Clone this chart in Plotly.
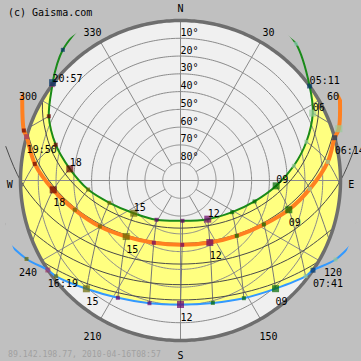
import numpy as np
import plotly.graph_objects as go

# ---------------- data (azimuth deg from N clockwise, elevation deg) ----------------
# June 21 (summer solstice), local summer time
SUMMER_TIME = ["03:00", "04:00", "05:11", "06:00", "07:00", "08:00", "09:00", "10:00", "11:00",
               "12:00", "13:00", "14:00", "15:00", "16:00", "17:00", "18:00", "19:00", "20:00",
               "20:57", "21:00", "22:00", "23:00"]
SUMMER_AZ = [27.6, 40.2, 53.8, 63.0, 72.9, 82.6, 93.2, 105.8, 121.5, 144.8, 177.2, 211.4, 235.0,
             252.6, 264.4, 276.0, 286.0, 296.0, 306.8, 307.4, 318.0, 330.6]
SUMMER_EL = [-15.9, -10.7, 0.0, 6.5, 15.9, 25.7, 36.1, 46.7, 55.9, 63.4, 67.3, 64.1, 57.9, 48.1,
             37.8, 27.4, 17.0, 7.6, 0.0, -0.6, -8.9, -15.0]

# today, April 16
TODAY_TIME = ["05:00", "06:00", "06:14", "07:00", "08:00", "09:00", "10:00", "11:00", "12:00",
              "13:00", "14:00", "15:00", "16:00", "17:00", "18:00", "19:00", "19:50", "20:00", "21:00"]
TODAY_AZ = [60.5, 71.9, 74.5, 82.8, 93.7, 105.1, 117.8, 134.5, 154.7, 178.5, 203.2, 224.1, 240.3,
            254.5, 265.8, 276.5, 285.9, 287.7, 299.2]
TODAY_EL = [-12.9, -3.7, 0.0, 6.5, 17.1, 26.9, 37.0, 45.6, 51.4, 53.8, 51.9, 46.1, 37.8, 28.3,
            18.2, 7.5, 0.0, -2.5, -12.0]

# December 21 (winter solstice), standard time
WINTER_TIME = ["06:00", "07:00", "07:41", "08:00", "09:00", "10:00", "11:00", "12:00", "13:00",
               "14:00", "15:00", "16:00", "16:19", "17:00", "18:00"]
WINTER_AZ = [106.7, 117.0, 124.1, 127.4, 138.7, 151.7, 165.2, 180.0, 194.2, 208.1, 221.0, 232.4,
             236.0, 243.0, 253.0]
WINTER_EL = [-15.7, -7.9, 0.0, 1.4, 9.0, 14.8, 18.8, 20.25, 18.8, 15.2, 9.3, 1.7, 0.0, -7.2, -15.9]

# thin sun paths of other dates
EQUINOX_AZ = [78.9, 90.0, 101.1, 112.9, 126.2, 141.7, 159.9, 180.0, 200.1, 218.3, 233.8, 247.1,
              258.9, 270.0, 281.1]
EQUINOX_EL = [-10.2, 0.0, 10.2, 19.9, 28.8, 36.2, 41.2, 43.0, 41.2, 36.2, 28.8, 19.9, 10.2, 0.0, -10.2]
FEBOCT_AZ = [107.2, 108.8, 120.3, 132.9, 147.1, 163.0, 180.0, 197.0, 212.9, 227.1, 239.7, 251.2, 252.8]
FEBOCT_EL = [0.0, 1.5, 10.8, 19.0, 25.6, 29.9, 31.4, 29.9, 25.6, 19.0, 10.8, 1.5, 0.0]
JANNOV_AZ = [120.4, 125.5, 137.4, 150.5, 164.9, 180.0, 195.1, 209.5, 222.6, 234.5, 239.6]
JANNOV_EL = [0.0, 3.9, 11.5, 17.6, 21.5, 22.8, 21.5, 17.6, 11.5, 3.9, 0.0]
APRAUG_AZ = [72.8, 82.0, 92.9, 104.6, 118.1, 134.6, 155.5, 180.0, 204.5, 225.4, 241.9, 255.4,
             267.1, 278.0, 287.2]
APRAUG_EL = [0.0, 8.5, 18.7, 28.8, 38.3, 46.5, 52.4, 54.6, 52.4, 46.5, 38.3, 28.8, 18.7, 8.5, 0.0]
MAYJUL_AZ = [59.6, 65.5, 75.9, 86.4, 97.5, 110.6, 127.4, 150.4, 180.0, 209.6, 232.6, 249.4, 262.5,
             273.6, 284.1, 294.5, 300.4]
MAYJUL_EL = [0.0, 5.0, 14.6, 24.7, 34.9, 44.8, 53.8, 60.6, 63.2, 60.6, 53.8, 44.8, 34.9, 24.7,
             14.6, 5.0, 0.0]

ELEV_RINGS = [10, 20, 30, 40, 50, 60, 70, 80]
SPOKES = [0, 30, 60, 90, 120, 150, 180, 210, 240, 270, 300, 330]
AZ_LABELS = [30, 60, 120, 150, 210, 240, 300, 330]
CARDINALS = ["N", "E", "S", "W"]
CARDINAL_AZ = [0, 90, 180, 270]
COPYRIGHT = "(c) Gaisma.com"
FOOTER = "89.142.198.77, 2010-04-16T08:57"

# ---------------- styling ----------------
RMAX = 90 * 180.5 / 160.0
FONT = "DejaVu Sans Mono"
BG_OUT = "#c0c0c0"
BG_IN = "#f0f0f0"
YELLOW = "#ffff80"
GRID = "#8a8a8a"
GROUP_COLORS = {1: "#8fc9b5", 2: "#99cc99", 3: "#006600", 4: "#660066",
                5: "#666600", 6: "#660000", 7: "#003366", 0: "#003366"}
SUNRISE_C = "#003366"
SUNSET_C = "#993366"
NBSP = "\u00a0"


def zen(el):
    return [90.0 - e for e in el]


fig = go.Figure()

# inner sky disk
circ = np.linspace(0, 360, 361)
fig.add_trace(go.Scatterpolar(r=[90] * len(circ), theta=circ, mode="lines", fill="toself",
                              fillcolor=BG_IN, line=dict(width=0), hoverinfo="skip"))


def above(az, el):
    idx = [i for i, e in enumerate(el) if e >= 0]
    return [az[i] for i in idx], [el[i] for i in idx]


s_az, s_el = above(SUMMER_AZ, SUMMER_EL)
w_az, w_el = above(WINTER_AZ, WINTER_EL)
west_arc = list(np.linspace(s_az[-1], w_az[-1], 40))
east_arc = list(np.linspace(w_az[0], s_az[0], 40))
poly_theta = s_az + west_arc + w_az[::-1] + east_arc
poly_r = zen(s_el) + [90] * 40 + zen(w_el[::-1]) + [90] * 40
fig.add_trace(go.Scatterpolar(r=poly_r, theta=poly_theta, mode="lines", fill="toself",
                              fillcolor=YELLOW, line=dict(width=0), hoverinfo="skip"))

# elevation rings
for e in ELEV_RINGS:
    fig.add_trace(go.Scatterpolar(r=[90 - e] * len(circ), theta=circ, mode="lines",
                                  line=dict(color=GRID, width=1), hoverinfo="skip"))
# azimuth spokes
for a in SPOKES:
    r0 = 0 if a % 90 == 0 else 10
    fig.add_trace(go.Scatterpolar(r=[r0, 90], theta=[a, a], mode="lines",
                                  line=dict(color=GRID, width=1), hoverinfo="skip"))


# hour lines (winter in standard time -> one hour earlier on the clock)
def lookup(times, az, el, h):
    key = "%02d:00" % h
    if key in times:
        i = times.index(key)
        return az[i], el[i]
    return None


for h in range(6, 21):
    pts = [lookup(SUMMER_TIME, SUMMER_AZ, SUMMER_EL, h),
           lookup(TODAY_TIME, TODAY_AZ, TODAY_EL, h),
           lookup(WINTER_TIME, WINTER_AZ, WINTER_EL, h - 1)]
    pts = [p for p in pts if p is not None]
    if len(pts) < 2:
        continue
    fig.add_trace(go.Scatterpolar(r=[90 - p[1] for p in pts], theta=[p[0] for p in pts],
                                  mode="lines", line=dict(color="#777777", width=1, shape="spline"),
                                  hoverinfo="skip"))

# mask outside horizon
mask_t = list(circ) + list(circ[::-1])
mask_r = [RMAX + 3] * len(circ) + [90] * len(circ)
fig.add_trace(go.Scatterpolar(r=mask_r, theta=mask_t, mode="lines", fill="toself",
                              fillcolor=BG_OUT, line=dict(width=0), hoverinfo="skip"))

# thin date paths
for az, el in [(EQUINOX_AZ, EQUINOX_EL), (FEBOCT_AZ, FEBOCT_EL), (JANNOV_AZ, JANNOV_EL),
               (APRAUG_AZ, APRAUG_EL), (MAYJUL_AZ, MAYJUL_EL)]:
    fig.add_trace(go.Scatterpolar(r=zen(el), theta=az, mode="lines",
                                  line=dict(color="#4a4a4a", width=1, shape="spline"),
                                  hoverinfo="skip", cliponaxis=False))

# horizon circle
fig.add_trace(go.Scatterpolar(r=[90] * len(circ), theta=circ, mode="lines",
                              line=dict(color="#6e6e6e", width=3.5), hoverinfo="skip"))

# main paths: (times, az, el, colour, width, labels below?)
PATHS = [
    (WINTER_TIME, WINTER_AZ, WINTER_EL, "#3399ff", 2, True),
    (TODAY_TIME, TODAY_AZ, TODAY_EL, "#ff8020", 4, True),
    (SUMMER_TIME, SUMMER_AZ, SUMMER_EL, "#1a8a1a", 2, False),
]
for times, az, el, col, lw, _ in PATHS:
    fig.add_trace(go.Scatterpolar(r=zen(el), theta=az, mode="lines",
                                  line=dict(color=col, width=lw, shape="spline"),
                                  hoverinfo="skip"))

for times, az, el, col, lw, below in PATHS:
    colors, sizes = [], []
    n_event = 0
    for t in times:
        h, m = int(t[:2]), int(t[3:])
        if m == 0:
            colors.append(GROUP_COLORS[h // 3])
            sizes.append(7 if h % 3 == 0 else 4)
        else:
            colors.append(SUNRISE_C if n_event == 0 else SUNSET_C)
            sizes.append(5)
            n_event += 1
    order = sorted(range(len(times)), key=lambda i: sizes[i])
    fig.add_trace(go.Scatterpolar(r=[90 - el[i] for i in order], theta=[az[i] for i in order],
                                  mode="markers", cliponaxis=False, hoverinfo="skip",
                                  marker=dict(symbol="square", size=[sizes[i] for i in order],
                                              color=[colors[i] for i in order],
                                              line=dict(width=0))))
    lab_t, lab_r, lab_txt = [], [], []
    for t, a, e in zip(times, az, el):
        h, m = int(t[:2]), int(t[3:])
        if m != 0:
            s = t
        elif h % 3 == 0 and e > 0:
            s = t[:2]
        else:
            continue
        lab_txt.append(NBSP * len(s) + s if below else s)
        lab_t.append(a)
        lab_r.append(90 - e)
    if below:
        fig.add_trace(go.Scatterpolar(r=lab_r, theta=lab_t, mode="markers+text", text=lab_txt,
                                      textposition="bottom center", cliponaxis=False,
                                      hoverinfo="skip",
                                      marker=dict(size=13, color="rgba(0,0,0,0)", line=dict(width=0)),
                                      textfont=dict(family=FONT, size=10, color="black")))
    else:
        fig.add_trace(go.Scatterpolar(r=lab_r, theta=lab_t, mode="text", text=lab_txt,
                                      textposition="top right", cliponaxis=False, hoverinfo="skip",
                                      textfont=dict(family=FONT, size=10, color="black")))

# elevation labels
fig.add_trace(go.Scatterpolar(r=[90 - e for e in ELEV_RINGS], theta=[0] * len(ELEV_RINGS),
                              mode="text", text=["%d°" % e for e in ELEV_RINGS],
                              textposition="top right", cliponaxis=False, hoverinfo="skip",
                              textfont=dict(family=FONT, size=10, color="black")))
# azimuth labels
fig.add_trace(go.Scatterpolar(r=[99] * len(AZ_LABELS), theta=AZ_LABELS, mode="text",
                              text=[str(a) for a in AZ_LABELS], textposition="bottom center",
                              cliponaxis=False, hoverinfo="skip",
                              textfont=dict(family=FONT, size=10, color="black")))
fig.add_trace(go.Scatterpolar(r=[96] * 4, theta=CARDINAL_AZ, mode="text", text=CARDINALS,
                              textposition=["middle center", "bottom center", "bottom center",
                                            "bottom center"],
                              cliponaxis=False, hoverinfo="skip",
                              textfont=dict(family=FONT, size=10, color="black")))

fig.update_layout(
    width=361, height=361, margin=dict(l=0, r=0, t=0, b=0, pad=0),
    paper_bgcolor=BG_OUT, plot_bgcolor=BG_OUT, showlegend=False, template="none",
    polar=dict(domain=dict(x=[0, 1], y=[0, 1]), bgcolor=BG_OUT,
               radialaxis=dict(range=[0, RMAX], visible=False),
               angularaxis=dict(rotation=90, direction="clockwise", visible=False)),
    annotations=[
        dict(text=COPYRIGHT, x=6 / 361, y=1 - 13 / 361, xref="paper", yref="paper",
             xanchor="left", yanchor="middle", showarrow=False,
             font=dict(family=FONT, size=10, color="black")),
        dict(text=FOOTER, x=6 / 361, y=1 - 353.5 / 361, xref="paper", yref="paper",
             xanchor="left", yanchor="middle", showarrow=False,
             font=dict(family=FONT, size=8.2, color="#a0a0a0")),
    ],
)
fig.write_html("out.html")
